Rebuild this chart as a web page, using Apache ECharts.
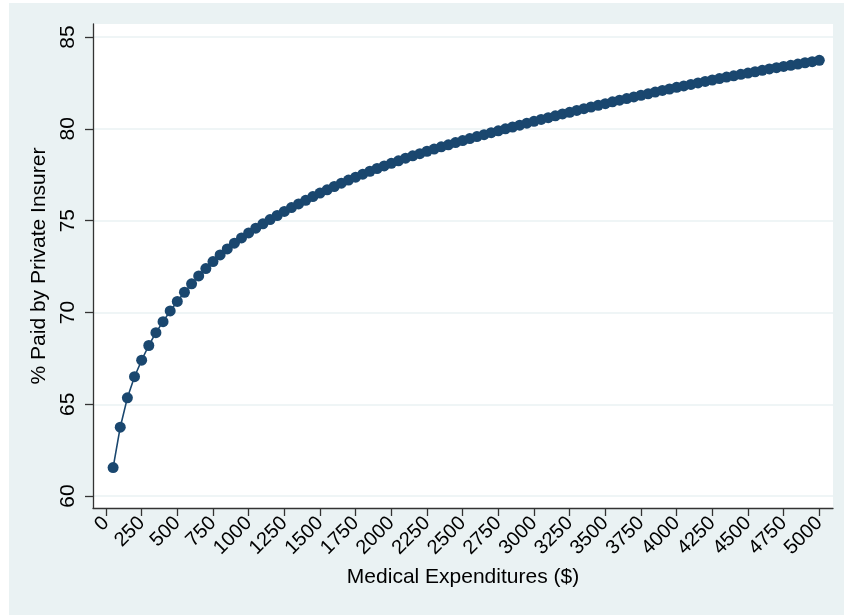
<!DOCTYPE html>
<html>
<head>
<meta charset="utf-8">
<script src="https://cdn.jsdelivr.net/npm/echarts@6/dist/echarts.min.js"></script>
<style>
  html, body { margin: 0; padding: 0; background: #ffffff; }
  #chart {
    width: 844px; height: 615px;
    background: linear-gradient(#eaf2f3, #eaf2f3) no-repeat 9px 3px / 835px 612px, #ffffff;
  }
</style>
</head>
<body>
<div id="chart"></div>
<script>
// Medical expenditures ($) at which the share is evaluated
const expenditures = [
  50, 100, 150, 200, 250, 300, 350, 400, 450, 500,
  550, 600, 650, 700, 750, 800, 850, 900, 950, 1000,
  1050, 1100, 1150, 1200, 1250, 1300, 1350, 1400, 1450, 1500,
  1550, 1600, 1650, 1700, 1750, 1800, 1850, 1900, 1950, 2000,
  2050, 2100, 2150, 2200, 2250, 2300, 2350, 2400, 2450, 2500,
  2550, 2600, 2650, 2700, 2750, 2800, 2850, 2900, 2950, 3000,
  3050, 3100, 3150, 3200, 3250, 3300, 3350, 3400, 3450, 3500,
  3550, 3600, 3650, 3700, 3750, 3800, 3850, 3900, 3950, 4000,
  4050, 4100, 4150, 4200, 4250, 4300, 4350, 4400, 4450, 4500,
  4550, 4600, 4650, 4700, 4750, 4800, 4850, 4900, 4950, 5000
];

// % of the bill paid by the private insurer
const percentPaid = [
  61.55, 63.75, 65.35, 66.50, 67.40, 68.20, 68.90, 69.50, 70.08, 70.60,
  71.10, 71.56, 71.99, 72.39, 72.77, 73.13, 73.46, 73.77, 74.06, 74.33,
  74.59, 74.83, 75.06, 75.28, 75.50, 75.71, 75.91, 76.11, 76.31, 76.50,
  76.68, 76.86, 77.04, 77.21, 77.37, 77.53, 77.69, 77.84, 77.98, 78.12,
  78.26, 78.40, 78.53, 78.65, 78.78, 78.90, 79.02, 79.13, 79.25, 79.36,
  79.47, 79.58, 79.68, 79.79, 79.89, 80.00, 80.10, 80.20, 80.31, 80.41,
  80.51, 80.61, 80.71, 80.81, 80.90, 81.00, 81.10, 81.19, 81.28, 81.37,
  81.47, 81.56, 81.65, 81.74, 81.83, 81.91, 82.00, 82.09, 82.17, 82.26,
  82.34, 82.42, 82.50, 82.58, 82.66, 82.74, 82.82, 82.89, 82.97, 83.04,
  83.11, 83.19, 83.26, 83.33, 83.40, 83.46, 83.53, 83.60, 83.66, 83.73
];

const xTicks = [0, 250, 500, 750, 1000, 1250, 1500, 1750, 2000, 2250, 2500,
                2750, 3000, 3250, 3500, 3750, 4000, 4250, 4500, 4750, 5000];
const yTicks = [60, 65, 70, 75, 80, 85];

const FONT = '"Liberation Sans", Arial, sans-serif';
const NAVY = '#1a476f';
const AXIS = '#333333';

const points = expenditures.map((x, i) => [x, percentPaid[i]]);

const chart = echarts.init(document.getElementById('chart'), null, { renderer: 'canvas' });

chart.setOption({
  backgroundColor: 'transparent',
  animation: false,
  grid: {
    left: 93, right: 11, top: 24, bottom: 107,
    show: true, backgroundColor: '#ffffff', borderWidth: 0
  },
  xAxis: {
    type: 'value',
    min: -91, max: 5096,
    name: 'Medical Expenditures ($)',
    nameLocation: 'middle',
    nameGap: 59,
    nameTextStyle: { fontFamily: FONT, fontSize: 21, color: '#000' },
    axisLine: { show: true, onZero: false, lineStyle: { color: AXIS, width: 1.3 } },
    axisTick: { show: true, length: 8, customValues: xTicks, lineStyle: { color: AXIS, width: 1.3 } },
    axisLabel: {
      customValues: xTicks,
      formatter: (v) => String(v),
      rotate: 45, margin: 12,
      fontFamily: FONT, fontSize: 20, color: '#000'
    },
    splitLine: { show: false }
  },
  yAxis: {
    type: 'value',
    min: 59.35, max: 85.71,
    name: '% Paid by Private Insurer',
    nameLocation: 'middle',
    nameRotate: 90,
    nameGap: 37,
    nameTextStyle: { fontFamily: FONT, fontSize: 21, color: '#000' },
    axisLine: { show: true, onZero: false, lineStyle: { color: AXIS, width: 1.3 } },
    axisTick: { show: true, length: 8, customValues: yTicks, lineStyle: { color: AXIS, width: 1.3 } },
    axisLabel: {
      customValues: yTicks,
      formatter: (v) => String(v),
      rotate: 90, margin: 14,
      fontFamily: FONT, fontSize: 21, color: '#000'
    },
    splitLine: { show: true, lineStyle: { color: '#eaf2f3', width: 1.5 } }
  },
  series: [{
    type: 'line',
    data: points,
    symbol: 'circle',
    symbolSize: 11,
    showSymbol: true,
    itemStyle: { color: NAVY },
    lineStyle: { color: NAVY, width: 1.6 },
    emphasis: { disabled: true }
  }]
});
</script>
</body>
</html>
